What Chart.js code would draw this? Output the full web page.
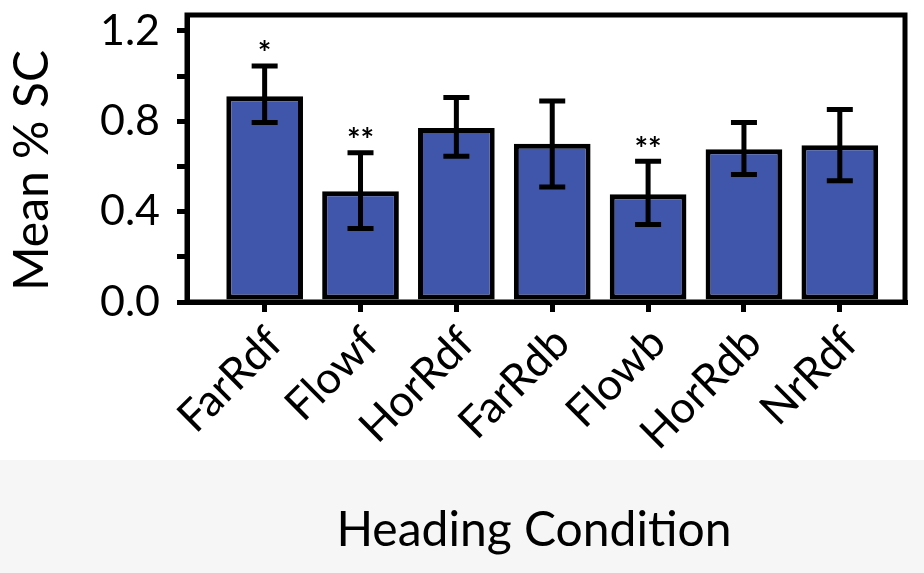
<!DOCTYPE html>
<html><head><meta charset="utf-8">
<script src="https://cdn.jsdelivr.net/npm/chart.js@4.4.1/dist/chart.umd.min.js"></script>
<style>html,body{margin:0;padding:0;background:#fff;} #wrap{width:924px;height:573px;position:relative;}</style>
</head><body><div id="wrap"><canvas id="c" width="924" height="573"></canvas></div>
<script>
const categories = ['FarRdf', 'Flowf', 'HorRdf', 'FarRdb', 'Flowb', 'HorRdb', 'NrRdf'];
const meanSC = [0.91, 0.49, 0.77, 0.70, 0.477, 0.676, 0.694];
const errLower = [0.794, 0.325, 0.645, 0.509, 0.343, 0.564, 0.536];
const errUpper = [1.044, 0.66, 0.905, 0.889, 0.623, 0.794, 0.852];
const significance = ['*', '**', '', '', '**', '', ''];
const yTickValues = [0, 0.2, 0.4, 0.6, 0.8, 1.0, 1.2];
const yTickLabels = ['0.0', '', '0.4', '', '0.8', '', '1.2'];

const FONT = 'Lato';

const background = {
  id: 'background',
  beforeDraw(chart) {
    const {ctx, width, height} = chart;
    ctx.save();
    ctx.fillStyle = '#ffffff';
    ctx.fillRect(0, 0, width, height);
    ctx.fillStyle = '#f6f6f6';
    ctx.fillRect(0, 460, width, height - 460);
    ctx.restore();
  }
};

const errorBars = {
  id: 'errorBars',
  afterDatasetsDraw(chart) {
    const {ctx, scales: {x, y}} = chart;
    ctx.save();
    ctx.strokeStyle = '#000';
    ctx.lineWidth = 5;
    ctx.lineCap = 'butt';
    categories.forEach((c, i) => {
      const px = x.getPixelForValue(i);
      const lo = y.getPixelForValue(errLower[i]);
      const hi = y.getPixelForValue(errUpper[i]);
      ctx.beginPath();
      ctx.moveTo(px, lo); ctx.lineTo(px, hi);
      ctx.moveTo(px - 13, hi); ctx.lineTo(px + 13, hi);
      ctx.moveTo(px - 13, lo); ctx.lineTo(px + 13, lo);
      ctx.stroke();
      if (significance[i]) {
        ctx.fillStyle = '#000';
        ctx.font = 'bold 32px ' + FONT;
        ctx.textAlign = 'center';
        ctx.textBaseline = 'middle';
        ctx.fillText(significance[i], px, hi - 11);
      }
    });
    ctx.restore();
  }
};

const frame = {
  id: 'frame',
  afterDraw(chart) {
    const {ctx, chartArea: a} = chart;
    ctx.save();
    ctx.strokeStyle = '#000';
    ctx.lineWidth = 5;
    ctx.lineJoin = 'miter';
    ctx.strokeRect(a.left, a.top, a.right - a.left, a.bottom - a.top);
    ctx.restore();
  }
};

new Chart(document.getElementById('c'), {
  type: 'bar',
  data: {
    datasets: [{
      data: categories.map((c, i) => ({x: i, y: meanSC[i]})),
      backgroundColor: '#3f56ab',
      borderColor: '#000',
      borderWidth: 5,
      borderSkipped: false,
      barPercentage: 0.8,
      categoryPercentage: 1
    }]
  },
  options: {
    responsive: false,
    animation: false,
    devicePixelRatio: 1,
    layout: {padding: {top: 15, right: 19, bottom: 0, left: 0}},
    plugins: {legend: {display: false}, tooltip: {enabled: false}},
    scales: {
      x: {
        type: 'linear', min: -0.81, max: 6.68, offset: false,
        afterBuildTicks: (s) => { s.ticks = categories.map((c, i) => ({value: i})); },
        afterFit: (s) => { s.height = 271; s.paddingLeft = 0; s.paddingRight = 0; },
        grid: {offset: false, drawOnChartArea: false, drawTicks: true, tickLength: 10, lineWidth: 5, color: '#000'},
        border: {display: true, width: 5, color: '#000'},
        ticks: {autoSkip: false, minRotation: 45, maxRotation: 45, padding: 5, labelOffset: 10, color: '#000',
                font: {family: FONT, size: 44},
                callback: (v) => categories[v] !== undefined ? categories[v] : ''},
        title: {display: true, text: 'Heading Condition\u2002', color: '#000',
                font: {family: FONT, size: 48}, padding: {top: 0, bottom: 14}}
      },
      y: {
        min: 0, max: 1.27,
        afterBuildTicks: (s) => { s.ticks = yTickValues.map(v => ({value: v})); },
        afterFit: (s) => { s.width = 187; s.paddingTop = 0; s.paddingBottom = 0; },
        grid: {drawOnChartArea: false, drawTicks: true, tickLength: 10, lineWidth: 5, color: '#000'},
        border: {display: true, width: 5, color: '#000'},
        ticks: {autoSkip: false, padding: 17, color: '#000', font: {family: FONT, size: 43},
                callback: (v, i) => yTickLabels[i]},
        title: {display: true, text: 'Mean % SC\u2002', color: '#000',
                font: {family: FONT, size: 48}, padding: {top: 4, bottom: 0}}
      }
    }
  },
  plugins: [background, errorBars, frame]
});
</script></body></html>
